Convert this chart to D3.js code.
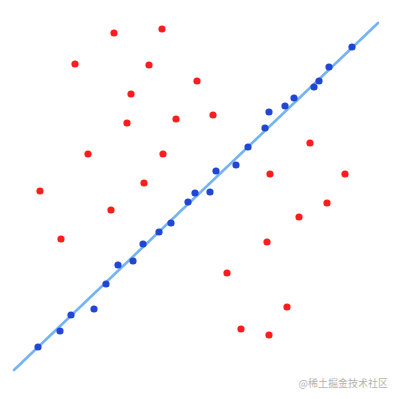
<!DOCTYPE html>
<html>
<head>
<meta charset="utf-8">
<script src="https://cdn.jsdelivr.net/npm/d3@7"></script>
<style>
	html, body { margin: 0; padding: 0; background: #fff; }
	svg { display: block; }
</style>
</head>
<body>
<svg width="399" height="399"></svg>
<script>
// points, in chart units (0..100 both ways)
var redX = [28.5, 40.5, 18.75, 37.25, 49.25, 32.75, 44, 31.75, 22, 40.75, 36, 10, 53.25,
	77.5, 67.5, 86.25, 27.75, 15.25, 81.75, 74.75, 66.75, 56.75, 71.75, 60.25, 67.25];
var redY = [91.75, 92.75, 84, 83.75, 79.75, 76.5, 70.25, 69.25, 61.5, 61.5, 54.25, 52.25, 71.25,
	64.25, 56.5, 56.5, 47.5, 40.25, 49.25, 45.75, 39.5, 31.75, 23.25, 17.75, 16.25];

var blueX = [9.5, 15, 17.75, 23.5, 26.5, 29.5, 33.25, 35.75, 39.75, 42.75, 47, 48.75,
	52.5, 54, 59, 62, 66.25, 67.25, 71.25, 73.5, 78.5, 79.75, 82.25, 88];
var blueY = [13.25, 17.25, 21.25, 22.75, 29, 33.75, 34.75, 39, 42, 44.25, 49.5, 51.75,
	52, 57.25, 58.75, 63.25, 68, 72, 73.5, 75.5, 78.25, 79.75, 83.25, 88.25];

// fitted line end points
var lineX = [3.5, 94.5];
var lineY = [7.5, 94.25];

var watermark = '@稀土掘金技术社区';

var svg = d3.select('svg');
var x = d3.scaleLinear().domain([0, 100]).range([0, 400]);
var y = d3.scaleLinear().domain([0, 100]).range([400, 0]);

var linePts = lineX.map(function(d, i){ return [d, lineY[i]]; });
svg.append('path')
	.datum(linePts)
	.attr('d', d3.line().x(function(d){ return x(d[0]); }).y(function(d){ return y(d[1]); }))
	.attr('stroke', '#74b4f2')
	.attr('stroke-width', 2.6)
	.attr('stroke-linecap', 'round')
	.attr('fill', 'none');

var reds = redX.map(function(d, i){ return [d, redY[i]]; });
svg.selectAll('circle.red').data(reds).enter().append('circle')
	.attr('class', 'red')
	.attr('cx', function(d){ return x(d[0]); })
	.attr('cy', function(d){ return y(d[1]); })
	.attr('r', 3.6)
	.attr('fill', '#ff1c1c');

var blues = blueX.map(function(d, i){ return [d, blueY[i]]; });
svg.selectAll('circle.blue').data(blues).enter().append('circle')
	.attr('class', 'blue')
	.attr('cx', function(d){ return x(d[0]); })
	.attr('cy', function(d){ return y(d[1]); })
	.attr('r', 3.6)
	.attr('fill', '#2146d4');

svg.append('text')
	.attr('x', 388)
	.attr('y', 387)
	.attr('text-anchor', 'end')
	.attr('font-family', '"Noto Sans CJK SC", sans-serif')
	.attr('font-size', 10)
	.attr('fill', '#b4b4b4')
	.text(watermark);
</script>
</body>
</html>
